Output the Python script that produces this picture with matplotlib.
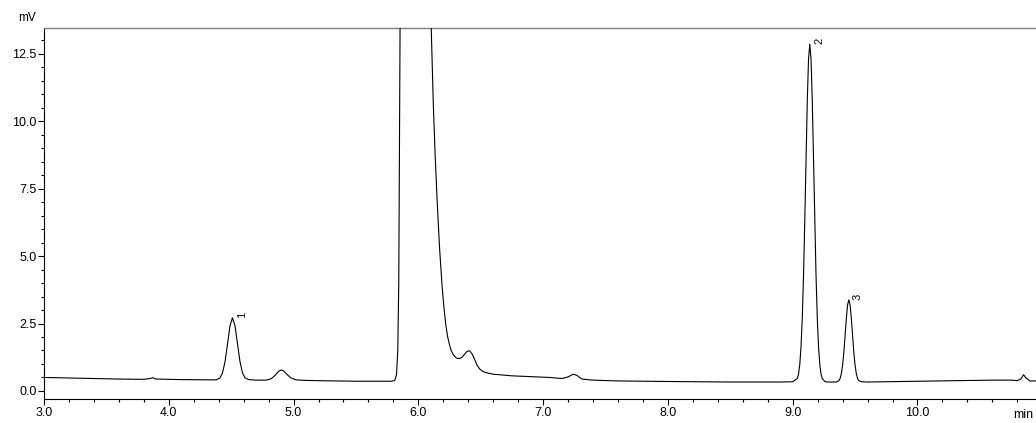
import matplotlib
matplotlib.use("Agg")
import matplotlib.pyplot as plt
from matplotlib.ticker import MultipleLocator

plt.rcParams['font.family'] = ['Liberation Sans', 'DejaVu Sans']

# Retention time (min) and detector signal (mV)
time_min = [
    3.00, 3.30, 3.60, 3.80, 3.85, 3.87, 3.90, 4.10, 4.30, 4.38,
    4.41, 4.43, 4.45, 4.47, 4.49, 4.51, 4.53, 4.55, 4.57, 4.59,
    4.61, 4.64, 4.70, 4.78, 4.82, 4.85, 4.88, 4.90, 4.92, 4.95,
    4.98, 5.02, 5.10, 5.20, 5.50, 5.78, 5.81, 5.825, 5.835, 5.843,
    5.85, 5.86, 5.90, 6.05, 6.09, 6.10, 6.12, 6.135, 6.15, 6.17,
    6.19, 6.205, 6.22, 6.235, 6.25, 6.265, 6.28, 6.30, 6.31, 6.33,
    6.35, 6.37, 6.39, 6.41, 6.43, 6.45, 6.47, 6.49, 6.52, 6.56,
    6.60, 6.75, 6.90, 7.05, 7.15, 7.20, 7.24, 7.27, 7.31, 7.40,
    7.60, 8.00, 8.50, 8.90, 9.00, 9.037, 9.047, 9.057, 9.067, 9.077,
    9.087, 9.097, 9.107, 9.117, 9.127, 9.137, 9.147, 9.157, 9.167, 9.177,
    9.187, 9.197, 9.207, 9.217, 9.227, 9.237, 9.26, 9.30, 9.35, 9.37,
    9.38, 9.39, 9.40, 9.41, 9.42, 9.43, 9.44, 9.45, 9.46, 9.47,
    9.48, 9.49, 9.50, 9.51, 9.52, 9.53, 9.55, 9.60, 10.00, 10.30,
    10.60, 10.75, 10.80, 10.83, 10.85, 10.87, 10.90, 10.96,
]
signal_mv = [
    0.50, 0.47, 0.44, 0.43, 0.46, 0.49, 0.44, 0.42, 0.41, 0.41,
    0.48, 0.66, 1.07, 1.72, 2.41, 2.71, 2.43, 1.76, 1.10, 0.68,
    0.49, 0.42, 0.40, 0.40, 0.45, 0.57, 0.73, 0.78, 0.74, 0.60,
    0.48, 0.41, 0.39, 0.38, 0.36, 0.36, 0.38, 0.60, 1.50, 4.00,
    10.0, 20.0, 60.0, 60.0, 20.0, 14.0, 10.6, 8.7, 7.1, 5.3,
    3.9, 3.1, 2.45, 2.0, 1.70, 1.48, 1.34, 1.24, 1.21, 1.20,
    1.25, 1.36, 1.47, 1.49, 1.38, 1.18, 0.96, 0.82, 0.71, 0.66,
    0.62, 0.56, 0.53, 0.50, 0.46, 0.52, 0.62, 0.58, 0.44, 0.40,
    0.37, 0.35, 0.33, 0.33, 0.34, 0.46, 0.63, 0.99, 1.65, 2.72,
    4.30, 6.34, 8.61, 10.75, 12.30, 12.86, 12.30, 10.75, 8.61, 6.34,
    4.30, 2.72, 1.65, 0.99, 0.63, 0.46, 0.34, 0.33, 0.33, 0.38,
    0.46, 0.64, 0.95, 1.43, 2.05, 2.69, 3.19, 3.38, 3.19, 2.69,
    2.05, 1.43, 0.95, 0.64, 0.46, 0.38, 0.34, 0.33, 0.36, 0.38,
    0.40, 0.40, 0.38, 0.45, 0.60, 0.48, 0.37, 0.37,
]

peak_ids = ["1", "2", "3"]
peak_times = [4.51, 9.137, 9.45]
peak_heights = [2.71, 12.86, 3.38]

x_major = [3.0, 4.0, 5.0, 6.0, 7.0, 8.0, 9.0, 10.0]
y_major = [0.0, 2.5, 5.0, 7.5, 10.0, 12.5]

fig = plt.figure(figsize=(10.36, 4.23), dpi=100)
ax = fig.add_axes([0.0425, 0.0567, 0.9575, 0.8771])

ax.plot(time_min, signal_mv, color='black', lw=0.8, zorder=3)

ax.set_xlim(3.0, 10.95)
ax.set_ylim(-0.30, 13.46)

ax.set_xticks(x_major)
ax.set_xticklabels([f"{v:.1f}" for v in x_major])
ax.set_yticks(y_major)
ax.set_yticklabels([f"{v:.1f}" for v in y_major])
ax.xaxis.set_minor_locator(MultipleLocator(0.2))
ax.yaxis.set_minor_locator(MultipleLocator(0.5))

ax.tick_params(axis='both', which='major', length=4, width=0.8, labelsize=9,
               color='black', pad=1.5)
ax.tick_params(axis='both', which='minor', length=2.5, width=0.8, color='black')

ax.spines['right'].set_visible(False)
ax.spines['top'].set_color('#808080')
ax.spines['top'].set_linewidth(1.0)
ax.spines['left'].set_linewidth(0.8)
ax.spines['bottom'].set_linewidth(0.8)

for pid, t, h in zip(peak_ids, peak_times, peak_heights):
    ax.annotate(pid, xy=(t, h), xytext=(3, 0), textcoords='offset points',
                rotation=90, ha='left', va='bottom', fontsize=8)

fig.text(18 / 1036, 1 - 18 / 423, "mV", fontsize=8.5, ha='left', va='center')
fig.text(1013 / 1036, 1 - 415 / 423, "min", fontsize=9, ha='left', va='center')

fig.savefig("out.png", dpi=100)
